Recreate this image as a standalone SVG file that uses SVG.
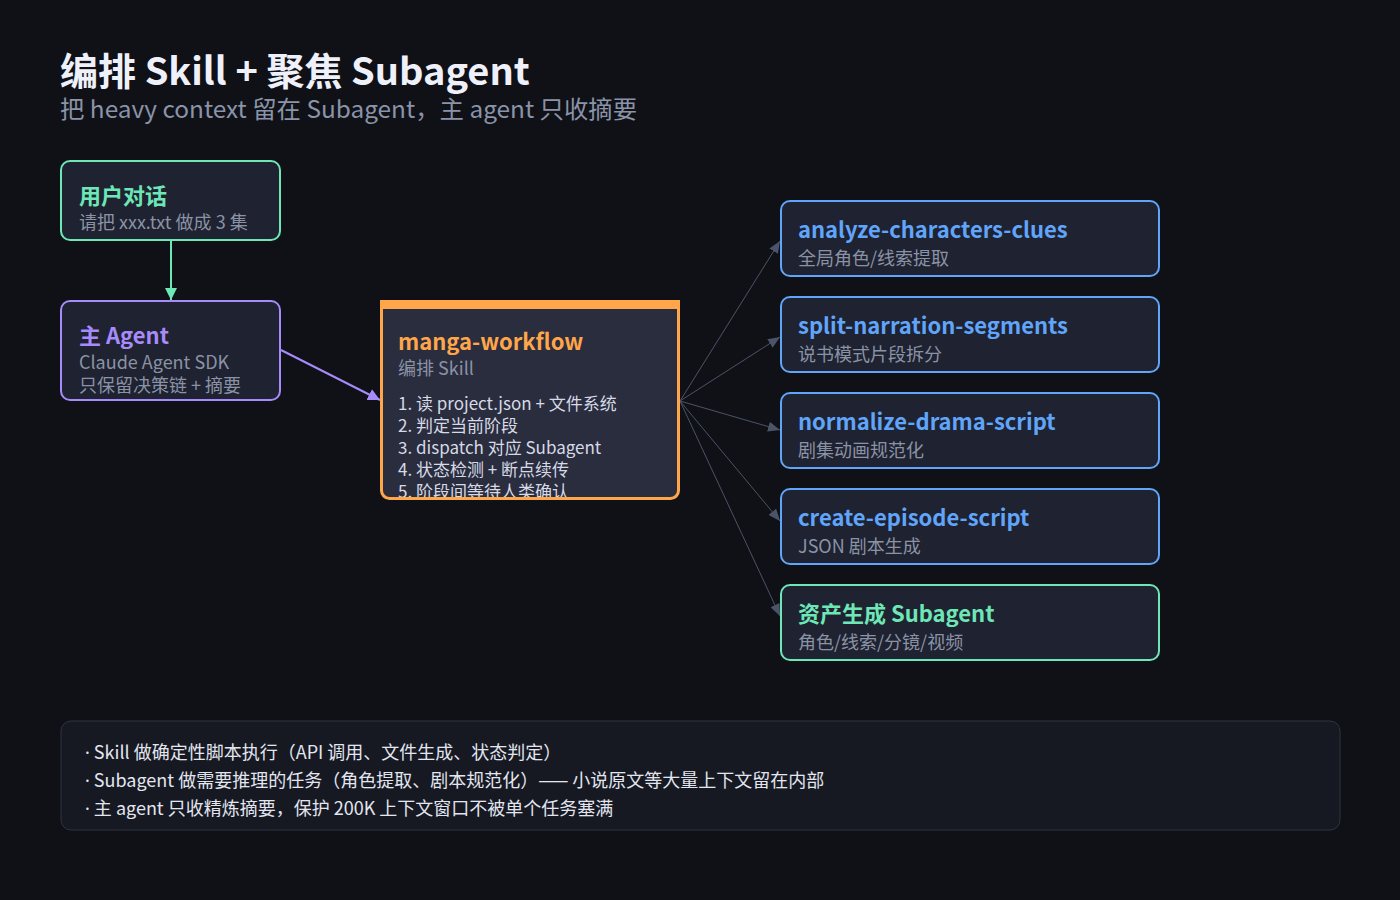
<svg xmlns="http://www.w3.org/2000/svg" width="1400" height="900" viewBox="0 0 1400 900">
<defs>
<style>
text{font-family:"Noto Sans CJK SC","Noto Sans",sans-serif;}
.title{font-size:38px;font-weight:700;fill:#eef0fa;}
.sub{font-size:24.4px;fill:#8a93a8;}
.node{fill:#1f2230;stroke-width:2;}
.nt{font-size:22px;font-weight:700;}
.ns{font-size:18px;fill:#8a93a6;}
.li{font-size:17px;fill:#d6dae6;}
.ft{font-size:18px;fill:#e3e6f0;}
.dot{font-family:"Noto Sans",sans-serif;}
.edge{fill:none;stroke:#4b5468;stroke-width:1;}
</style>
<marker id="ag" viewBox="0 0 12 10" refX="12" refY="5" markerWidth="12" markerHeight="10" markerUnits="userSpaceOnUse" orient="auto"><path d="M0,0 L12,5 L0,10 z" fill="#4b5468"/></marker>
<marker id="agreen" viewBox="0 0 12 12" refX="12" refY="6" markerWidth="12" markerHeight="13" markerUnits="userSpaceOnUse" orient="auto"><path d="M0,0 L12,6 L0,12 z" fill="#6ee7b7"/></marker>
<marker id="apurple" viewBox="0 0 12 12" refX="12" refY="6" markerWidth="12" markerHeight="13" markerUnits="userSpaceOnUse" orient="auto"><path d="M0,0 L12,6 L0,12 z" fill="#a78bfa"/></marker>
</defs>
<rect width="1400" height="900" fill="#0f1117"/>
<text class="title" x="60" y="85">编排 Skill + 聚焦 Subagent</text>
<text class="sub" x="60" y="118">把 heavy context 留在 Subagent，主 agent 只收摘要</text>

<g id="connectors">
<line x1="171" y1="241" x2="171" y2="300" stroke="#6ee7b7" stroke-width="2" marker-end="url(#agreen)"/>
<line x1="281" y1="350" x2="380" y2="400" stroke="#a78bfa" stroke-width="2" marker-end="url(#apurple)"/>
<line class="edge" x1="680" y1="401" x2="780" y2="241" marker-end="url(#ag)"/>
<line class="edge" x1="680" y1="401" x2="780" y2="337" marker-end="url(#ag)"/>
<line class="edge" x1="680" y1="401" x2="780" y2="430" marker-end="url(#ag)"/>
<line class="edge" x1="680" y1="401" x2="780" y2="521" marker-end="url(#ag)"/>
<line class="edge" x1="680" y1="401" x2="780" y2="616" marker-end="url(#ag)"/>
</g>

<g id="user">
<rect class="node" x="61" y="161" width="219" height="79" rx="9" stroke="#6ee7b7"/>
<text class="nt" x="79" y="204" fill="#6ee7b7">用户对话</text>
<text class="ns" x="79" y="229">请把 xxx.txt 做成 3 集</text>
</g>

<g id="main-agent">
<rect class="node" x="61" y="301" width="219" height="99" rx="9" stroke="#a78bfa"/>
<text class="nt" x="79" y="344" fill="#a78bfa">主 Agent</text>
<text class="ns" x="79" y="369">Claude Agent SDK</text>
<text class="ns" x="79" y="392">只保留决策链 + 摘要</text>
</g>

<g id="manga-workflow">
<rect x="381.5" y="301.5" width="297" height="197" rx="8" fill="#2a2d3e"/>
<text class="nt" x="398" y="350" fill="#ffa64a">manga-workflow</text>
<text class="ns" x="398" y="375">编排 Skill</text>
<text class="li" x="398" y="410">1. 读 project.json + 文件系统</text>
<text class="li" x="398" y="432">2. 判定当前阶段</text>
<text class="li" x="398" y="454">3. dispatch 对应 Subagent</text>
<text class="li" x="398" y="476">4. 状态检测 + 断点续传</text>
<text class="li" x="398" y="498">5. 阶段间等待人类确认</text>
<rect x="381.5" y="301.5" width="297" height="197" rx="8" fill="none" stroke="#ffa64a" stroke-width="3"/>
<rect x="380" y="300" width="300" height="9" fill="#ffa64a"/>
</g>

<g id="analyze">
<rect class="node" x="781" y="201" width="378" height="75" rx="9" stroke="#60a5fa"/>
<text class="nt" x="798" y="238" fill="#60a5fa">analyze-characters-clues</text>
<text class="ns" x="798" y="265">全局角色/线索提取</text>
</g>
<g id="split">
<rect class="node" x="781" y="297" width="378" height="75" rx="9" stroke="#60a5fa"/>
<text class="nt" x="798" y="334" fill="#60a5fa">split-narration-segments</text>
<text class="ns" x="798" y="361">说书模式片段拆分</text>
</g>
<g id="normalize">
<rect class="node" x="781" y="393" width="378" height="75" rx="9" stroke="#60a5fa"/>
<text class="nt" x="798" y="430" fill="#60a5fa">normalize-drama-script</text>
<text class="ns" x="798" y="457">剧集动画规范化</text>
</g>
<g id="create">
<rect class="node" x="781" y="489" width="378" height="75" rx="9" stroke="#60a5fa"/>
<text class="nt" x="798" y="526" fill="#60a5fa">create-episode-script</text>
<text class="ns" x="798" y="553">JSON 剧本生成</text>
</g>
<g id="asset">
<rect class="node" x="781" y="585" width="378" height="75" rx="9" stroke="#6ee7b7"/>
<text class="nt" x="798" y="622" fill="#6ee7b7">资产生成 Subagent</text>
<text class="ns" x="798" y="649">角色/线索/分镜/视频</text>
</g>

<g id="notes">
<rect x="61" y="721" width="1279" height="109" rx="10" fill="#161922" stroke="#2f3445" stroke-width="1"/>
<text class="ft" x="85" y="759"><tspan class="dot">·</tspan> Skill 做确定性脚本执行（API 调用、文件生成、状态判定）</text>
<text class="ft" x="85" y="787"><tspan class="dot">·</tspan> Subagent 做需要推理的任务（角色提取、剧本规范化）—— 小说原文等大量上下文留在内部</text>
<text class="ft" x="85" y="815"><tspan class="dot">·</tspan> 主 agent 只收精炼摘要，保护 200K 上下文窗口不被单个任务塞满</text>
</g>
</svg>
